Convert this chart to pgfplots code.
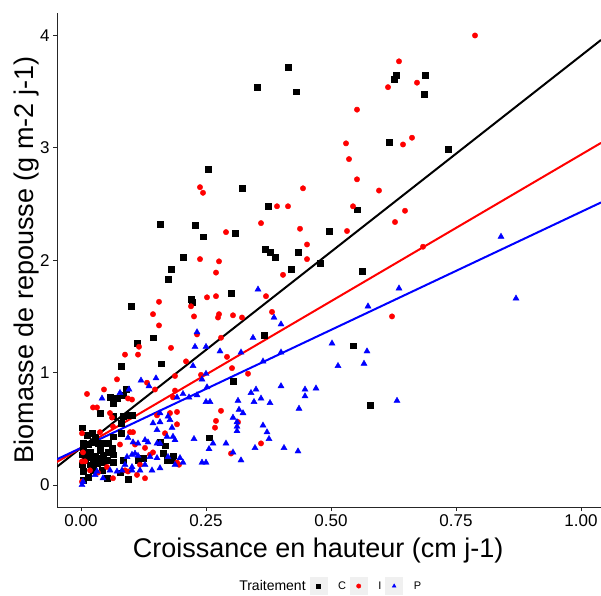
\documentclass[border=0pt]{standalone}
\usepackage{pgfplots}
\pgfplotsset{compat=1.18}
\usepackage{pgfplotstable}
\usepackage{fontspec}
\setmainfont{Liberation Sans}

% points: x = croissance, y = biomasse
\pgfplotstableread{
x y
0.414 3.72
0.352 3.54
0.430 3.50
0.254 2.81
0.322 2.64
0.158 2.32
0.228 2.31
0.244 2.21
0.308 2.24
0.374 2.48
0.368 2.10
0.378 2.07
0.388 2.03
0.434 2.07
0.204 2.03
0.180 1.92
0.174 1.83
0.420 1.92
0.300 1.71
0.220 1.65
0.630 3.65
0.626 3.61
0.688 3.65
0.686 3.48
0.616 3.05
0.734 2.99
0.552 2.45
0.496 2.26
0.478 1.97
0.562 1.90
0.544 1.24
0.578 0.71
0.222 1.63
0.366 1.33
0.304 0.92
0.256 0.42
0.184 0.26
0.178 0.22
0.100 1.59
0.112 1.26
0.144 1.31
0.080 1.06
0.160 1.08
0.090 0.85
0.058 0.78
0.072 0.77
0.084 0.80
0.064 0.73
0.038 0.64
0.064 0.61
0.084 0.61
0.098 0.62
0.080 0.55
0.002 0.51
0.022 0.46
0.012 0.44
0.028 0.43
0.004 0.37
0.014 0.36
0.024 0.38
0.034 0.37
0.044 0.37
0.054 0.37
0.064 0.43
0.080 0.46
0.062 0.33
0.004 0.31
0.018 0.29
0.038 0.31
0.054 0.29
0.002 0.27
0.014 0.25
0.028 0.26
0.044 0.27
0.064 0.27
0.008 0.22
0.024 0.22
0.038 0.24
0.052 0.22
0.002 0.18
0.018 0.18
0.032 0.19
0.044 0.20
0.064 0.20
0.084 0.22
0.004 0.12
0.024 0.13
0.042 0.13
0.014 0.07
0.004 0.04
0.052 0.06
0.078 0.11
0.094 0.05
0.114 0.22
0.124 0.24
0.158 0.38
0.168 0.35
0.172 0.22
0.182 0.22
0.164 0.28
0.102 0.62
}\dataC

\pgfplotstableread{
x y
0.788 4.00
0.636 3.77
0.614 3.54
0.672 3.58
0.552 3.34
0.530 3.04
0.536 2.90
0.552 2.72
0.444 2.64
0.596 2.62
0.662 3.09
0.644 3.03
0.544 2.48
0.648 2.44
0.628 2.34
0.532 2.26
0.438 2.28
0.452 2.14
0.452 2.01
0.684 2.12
0.622 1.50
0.238 2.65
0.244 2.60
0.360 2.33
0.392 2.48
0.414 2.48
0.290 2.25
0.238 2.01
0.276 1.99
0.270 1.89
0.404 1.87
0.252 1.67
0.270 1.68
0.370 1.68
0.156 1.63
0.144 1.52
0.156 1.42
0.088 1.16
0.114 1.16
0.116 1.23
0.072 0.94
0.046 0.85
0.012 0.81
0.180 1.22
0.210 1.10
0.188 0.97
0.132 0.91
0.148 0.85
0.220 1.59
0.226 1.50
0.276 1.52
0.274 1.49
0.304 1.51
0.322 1.49
0.382 1.54
0.232 1.34
0.280 1.31
0.292 1.14
0.302 1.04
0.240 0.98
0.334 0.99
0.188 0.84
0.184 0.78
0.192 0.65
0.280 0.66
0.270 0.57
0.268 0.51
0.314 0.56
0.192 0.54
0.360 0.37
0.300 0.28
0.196 0.18
0.024 0.69
0.032 0.69
0.058 0.64
0.062 0.60
0.094 0.77
0.102 0.76
0.002 0.46
0.038 0.47
0.064 0.52
0.098 0.47
0.104 0.47
0.078 0.36
0.004 0.29
0.002 0.21
0.008 0.21
0.018 0.13
0.034 0.11
0.052 0.16
0.088 0.13
0.094 0.12
0.064 0.06
0.108 0.36
0.128 0.33
0.138 0.27
0.128 0.06
0.144 0.29
0.168 0.46
0.178 0.64
0.152 0.62
0.192 0.20
0.112 0.09
0.118 0.18
0.002 0.03
}\dataI

\pgfplotstableread{
x y
0.840 2.21
0.870 1.66
0.636 1.75
0.574 1.59
0.354 1.74
0.400 1.43
0.386 1.49
0.502 1.26
0.572 1.19
0.514 1.06
0.566 1.08
0.400 1.18
0.400 0.88
0.448 0.85
0.448 0.79
0.470 0.86
0.436 0.68
0.632 0.75
0.406 0.33
0.434 0.30
0.232 1.36
0.228 1.23
0.250 1.23
0.278 1.19
0.320 1.18
0.344 1.31
0.364 1.10
0.224 1.06
0.250 0.99
0.242 0.94
0.204 0.81
0.192 0.78
0.216 0.78
0.232 0.80
0.252 0.87
0.250 0.74
0.258 0.74
0.314 0.75
0.340 0.82
0.350 0.85
0.346 0.74
0.360 0.77
0.378 0.73
0.316 0.67
0.324 0.64
0.304 0.60
0.312 0.56
0.312 0.52
0.312 0.48
0.364 0.53
0.372 0.47
0.376 0.41
0.178 0.58
0.182 0.51
0.184 0.43
0.226 0.41
0.264 0.37
0.290 0.37
0.256 0.32
0.304 0.29
0.348 0.33
0.320 0.22
0.242 0.20
0.250 0.20
0.198 0.24
0.204 0.20
0.042 0.77
0.096 0.85
0.120 0.93
0.136 0.88
0.150 0.95
0.078 0.82
0.002 0.00
0.004 0.03
0.094 0.42
0.104 0.38
0.114 0.37
0.128 0.40
0.134 0.38
0.152 0.37
0.158 0.37
0.144 0.55
0.158 0.56
0.174 0.61
0.158 0.64
0.152 0.49
0.092 0.25
0.102 0.27
0.108 0.28
0.114 0.26
0.138 0.25
0.152 0.24
0.128 0.18
0.088 0.18
0.102 0.16
0.072 0.12
0.102 0.13
0.118 0.13
0.142 0.13
0.158 0.15
0.082 0.13
0.058 0.13
0.032 0.12
0.044 0.06
0.028 0.09
0.172 0.43
0.188 0.40
0.174 0.25
0.188 0.18
}\dataP

\pgfplotsset{
  keybox/.style={legend image code/.code={
    \fill[black!6] (0pt,-8.5pt) rectangle (17pt,8.5pt);
    \draw[##1, mark size=2.2pt] plot coordinates {(8.5pt,0pt)};
  }},
}

\begin{document}
\begin{tikzpicture}
\begin{axis}[
    at={(0,0)}, anchor=south west,
    scale only axis,
    width=544pt, height=494pt,
    xmin=-0.048, xmax=1.04,
    ymin=-0.196, ymax=4.2,
    axis lines=left,
    axis line style={-, line width=0.9pt, black!85},
    tick style={line width=0.9pt, black!85},
    tick align=outside,
    major tick length=4pt,
    xtick={0,0.25,0.5,0.75,1},
    xticklabels={0.00,0.25,0.50,0.75,1.00},
    ytick={0,1,2,3,4},
    /pgf/number format/assume math mode=true,
    ticklabel style={font=\fontsize{17}{20}\selectfont, black},
    xlabel={Croissance en hauteur (cm j-1)},
    ylabel={Biomasse de repousse (g m-2 j-1)},
    label style={font=\fontsize{27}{31}\selectfont},
    xlabel style={at={(axis description cs:0.48,-0.1032)}, anchor=base},
    ylabel style={at={(axis description cs:-0.0441,0.5)}, anchor=base},
    legend style={
        at={(axis description cs:0.494,-0.160)}, anchor=center,
        draw=none, fill=none,
        legend columns=-1,
        font=\fontsize{11}{13}\selectfont,
        /tikz/every odd column/.append style={column sep=9pt},
        /tikz/every even column/.append style={column sep=2pt},
    },
]
\addlegendimage{empty legend}
\addlegendentry{\fontsize{14}{16}\selectfont Traitement}

\addplot[only marks, mark=square*, mark size=2.9pt, black, keybox] table {\dataC};
\addlegendentry{C}
\addplot[only marks, mark=*, mark size=2.7pt, red, keybox] table {\dataI};
\addlegendentry{I}
\addplot[only marks, mark=triangle*, mark size=3.5pt, blue, keybox] table {\dataP};
\addlegendentry{P}

% fitted lines, full range
\addplot[forget plot, black, line width=2pt] coordinates {(-0.048,0.162) (1.04,3.96)};
\addplot[forget plot, red, line width=2pt] coordinates {(-0.048,0.205) (1.04,3.044)};
\addplot[forget plot, blue, line width=2pt] coordinates {(-0.048,0.229) (1.04,2.514)};
\end{axis}
\pgfresetboundingbox
\path[use as bounding box] (-57pt,-88pt) rectangle (544pt,507pt);
\end{tikzpicture}
\end{document}
